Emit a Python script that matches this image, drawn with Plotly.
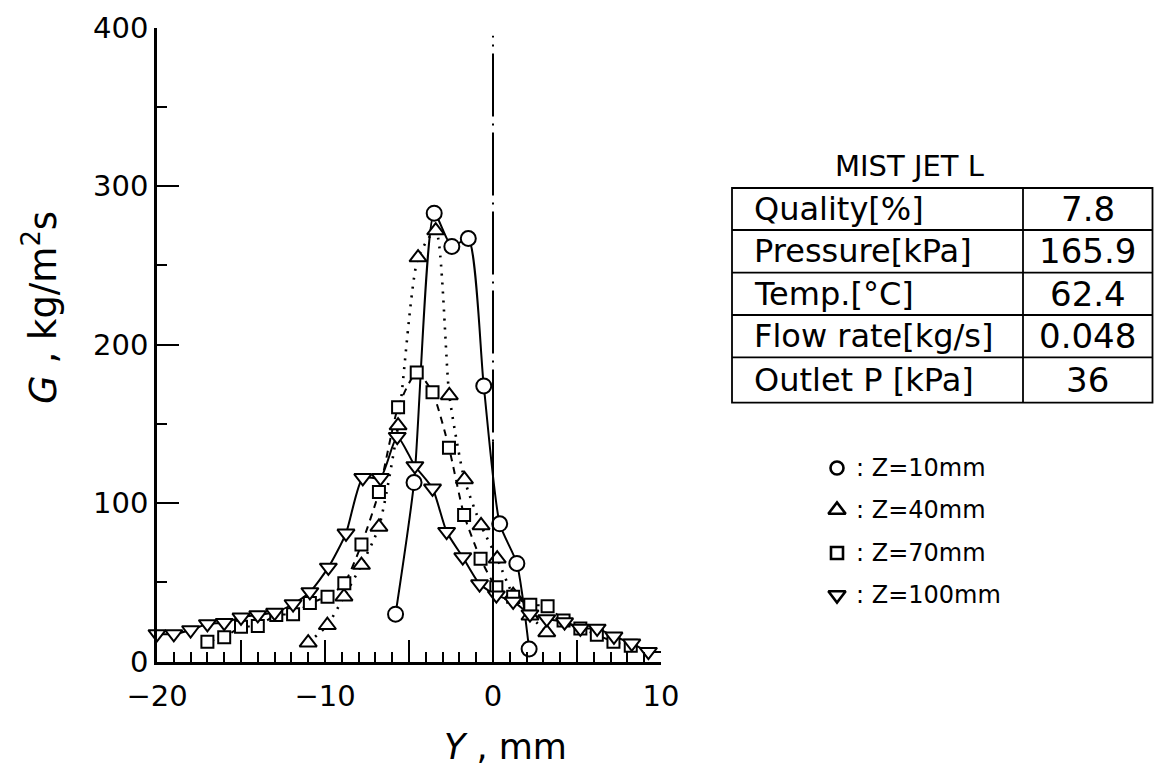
import plotly.graph_objects as go

W, H = 1164, 778

# Measured mass flux G [kg/m^2 s] across the jet, position Y [mm]
y_z10 = [-5.8, -4.7, -3.5, -2.45, -1.47, -0.55, 0.4, 1.42, 2.15]
g_z10 = [30, 113, 283, 262, 267, 174, 87, 62, 8]

y_z40 = [-11.0, -9.86, -8.87, -7.83, -6.79, -5.65, -4.46, -3.41, -2.6, -1.7,
         -0.71, 0.25, 1.2, 2.2, 3.2]
g_z40 = [12, 23, 41, 61, 85, 149, 255, 272, 168, 115, 86, 65, 42, 29, 18.5]

y_z70 = [-17.0, -16.0, -15.0, -14.0, -12.9, -11.9, -10.9, -9.85, -8.85, -7.83,
         -6.79, -5.65, -4.54, -3.6, -2.62, -1.72, -0.74, 0.2, 1.2, 2.22, 3.25,
         4.2, 5.2, 6.18, 7.17, 8.2]
g_z70 = [12.6, 15.4, 22, 22.5, 29.5, 30, 37, 41, 49.5, 74, 107, 160.5, 182.5,
         170, 135, 92.5, 65, 47, 41, 36, 35, 26, 21, 17, 12.6, 10]

y_z100 = [-20.0, -19.0, -18.0, -17.0, -16.0, -15.0, -14.0, -13.0, -11.9, -10.9,
          -9.8, -8.75, -7.75, -6.7, -5.7, -4.65, -3.6, -2.76, -1.8, -0.8, 0.2,
          1.2, 2.2, 3.2, 4.26, 5.2, 6.2, 7.2, 8.26, 9.25, 10.2]
g_z100 = [17.5, 17.5, 20, 23.8, 24.6, 28, 29.5, 31, 36.4, 44, 59.5, 81, 116,
          116, 142, 123.5, 109.4, 82, 66, 49, 42, 38, 30, 27, 25, 21, 21, 16,
          11.6, 6.3, 6.3]

series_labels = ["Z=10mm", "Z=40mm", "Z=70mm", "Z=100mm"]
x_ticks = [-20, -15, -10, -5, 0, 5, 10]
x_ticktext = ["\u221220", "", "\u221210", "", "0", "", "10"]
y_ticks = [0, 100, 200, 300, 400]

table_rows = ["Quality[%]", "Pressure[kPa]", "Temp.[\u00b0C]",
              "Flow rate[kg/s]", "Outlet P [kPa]"]
table_vals = ["7.8", "165.9", "62.4", "0.048", "36"]

FONT = "DejaVu Sans"
INK = "black"

# plot area in pixels
PX0, PX1 = 157.0, 661.0
PY_TOP, PY_BOT = 27.7, 661.7

fig = go.Figure()

styles = [
    (y_z10, g_z10, "solid", "circle", 15),
    (y_z40, g_z40, "2px,7px", "triangle-up", 15),
    (y_z70, g_z70, "7px,6px", "square", 12),
    (y_z100, g_z100, "solid", "triangle-down", 15),
]

# curves first, markers on top
for xs, gs, dash, sym, size in styles:
    fig.add_trace(go.Scatter(
        x=xs, y=gs, mode="lines",
        line=dict(color=INK, width=2.6 if dash == "2px,7px" else 2.0,
                  dash=dash, shape="spline", smoothing=0.6),
        hoverinfo="skip", showlegend=False, cliponaxis=False))

for (xs, gs, dash, sym, size), name in zip(styles, series_labels):
    fig.add_trace(go.Scatter(
        x=xs, y=gs, mode="markers", name=name,
        marker=dict(symbol=sym, size=size, color="white",
                    line=dict(color=INK, width=2.0)),
        showlegend=False, cliponaxis=False))

# symbol key drawn on a pixel-scaled overlay axis to the right of the plot
KX0 = 700
key_y = [468, 510, 553, 595]
key_syms = ["circle", "triangle-up", "square", "triangle-down"]
key_sizes = [13, 15, 12, 15]
for ky, sym, sz in zip(key_y, key_syms, key_sizes):
    fig.add_trace(go.Scatter(
        x=[837], y=[ky], mode="markers", xaxis="x2", yaxis="y2",
        marker=dict(symbol=sym, size=sz, color="white",
                    line=dict(color=INK, width=2.6)),
        showlegend=False, hoverinfo="skip", cliponaxis=False))

annotations = []
for ky, name in zip(key_y, series_labels):
    annotations.append(dict(
        x=854 / W, y=1 - ky / H, xref="paper", yref="paper",
        text=": " + name, showarrow=False, xanchor="left", yanchor="middle",
        font=dict(family=FONT, size=24, color=INK)))

# condition table
T_L, T_M, T_R = 732, 1023, 1152.5
row_edges = [188, 230, 272.7, 315, 357.3, 402.7]
shapes = []
shapes.append(dict(type="rect", xref="paper", yref="paper",
                   x0=T_L / W, x1=T_R / W, y0=1 - row_edges[-1] / H,
                   y1=1 - row_edges[0] / H, line=dict(color=INK, width=1.8)))
shapes.append(dict(type="line", xref="paper", yref="paper",
                   x0=T_M / W, x1=T_M / W, y0=1 - row_edges[-1] / H,
                   y1=1 - row_edges[0] / H, line=dict(color=INK, width=1.8)))
for e in row_edges[1:-1]:
    shapes.append(dict(type="line", xref="paper", yref="paper",
                       x0=T_L / W, x1=T_R / W, y0=1 - e / H, y1=1 - e / H,
                       line=dict(color=INK, width=1.8)))
for i, (lab, val) in enumerate(zip(table_rows, table_vals)):
    yc = (row_edges[i] + row_edges[i + 1]) / 2
    annotations.append(dict(
        x=752 / W, y=1 - yc / H, xref="paper", yref="paper", text=lab,
        showarrow=False, xanchor="left", yanchor="middle",
        font=dict(family=FONT, size=32, color=INK)))
    annotations.append(dict(
        x=(T_M + T_R) / 2 / W, y=1 - yc / H, xref="paper", yref="paper",
        text=val, showarrow=False, xanchor="center", yanchor="middle",
        font=dict(family=FONT, size=34, color=INK)))

annotations.append(dict(
    x=909 / W, y=1 - 166 / H, xref="paper", yref="paper", text="MIST JET L",
    showarrow=False, xanchor="center", yanchor="middle",
    font=dict(family=FONT, size=29, color=INK)))

# axis titles
annotations.append(dict(
    x=505 / W, y=1 - 747 / H, xref="paper", yref="paper",
    text="<i>Y</i> , mm", showarrow=False, xanchor="center", yanchor="middle",
    font=dict(family=FONT, size=35, color=INK)))
annotations.append(dict(
    x=40 / W, y=1 - 308 / H, xref="paper", yref="paper",
    text="<i>G</i> , kg/m<sup>2</sup>s", showarrow=False, textangle=-90,
    xanchor="center", yanchor="middle",
    font=dict(family=FONT, size=37, color=INK)))

# centreline of the nozzle at Y = 0: solid near the wall, chain line above
shapes.append(dict(type="line", xref="x", yref="y", x0=0, x1=0, y0=0, y1=139,
                   line=dict(color=INK, width=2)))
shapes.append(dict(type="line", xref="x", yref="y", x0=0, x1=0, y0=139,
                   y1=395,
                   line=dict(color=INK, width=2,
                             dash="2px,7px,63px,7px")))

axis_common = dict(showgrid=False, zeroline=False, showline=True,
                   automargin=False,
                   linecolor=INK, linewidth=2.6, ticks="inside",
                   tickcolor=INK, tickwidth=2, ticklen=22,
                   tickfont=dict(family=FONT, size=29, color=INK))

fig.update_layout(
    width=W, height=H, margin=dict(l=0, r=0, t=0, b=0),
    paper_bgcolor="white", plot_bgcolor="rgba(0,0,0,0)", showlegend=False,
    xaxis=dict(domain=[PX0 / W, PX1 / W], range=[-20, 10],
               tickmode="array", tickvals=x_ticks, ticktext=x_ticktext,
               minor=dict(tick0=0, dtick=1, ticks="inside", ticklen=10,
                          tickwidth=1.8, tickcolor=INK),
               ticklabelstandoff=7, anchor="y", **axis_common),
    yaxis=dict(domain=[1 - PY_BOT / H, 1 - PY_TOP / H], range=[0, 400],
               tickmode="array", tickvals=y_ticks,
               minor=dict(tick0=0, dtick=50, ticks="inside", ticklen=10,
                          tickwidth=1.8, tickcolor=INK),
               ticklabelstandoff=0, anchor="x", **axis_common),
    xaxis2=dict(domain=[KX0 / W, 1], range=[KX0, W], visible=False,
                anchor="y2", automargin=False),
    yaxis2=dict(domain=[0, 1], range=[H, 0], visible=False, anchor="x2",
                automargin=False),
    shapes=shapes, annotations=annotations,
)

fig.write_html("out.html")
